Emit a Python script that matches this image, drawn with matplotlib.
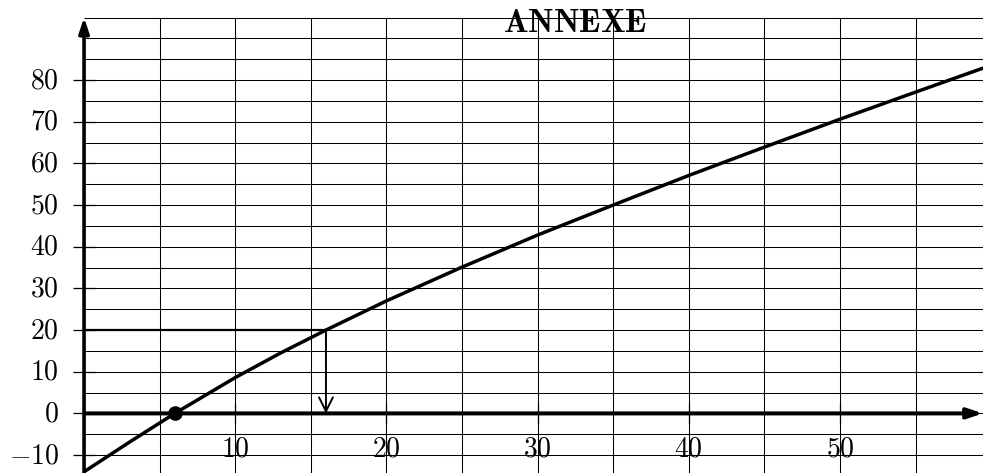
import numpy as np
import matplotlib
matplotlib.use('Agg')
import matplotlib.pyplot as plt

plt.rcParams['mathtext.fontset'] = 'cm'

# curve values
curve_x = [0, 3, 6, 10, 13, 16, 20, 25, 30, 35, 40, 45, 50, 55, 59.5]
curve_y = [-14.0, -6.9, 0, 8.6, 14.5, 20.0, 27.0, 35.1, 42.8, 50.0, 57.1, 63.9, 70.6, 77.1, 82.9]

# marked points
zero_x, zero_y = 6, 0
read_x, read_y = 16, 20

x_labels = [10, 20, 30, 40, 50]
y_labels = [-10, 0, 10, 20, 30, 40, 50, 60, 70, 80]
grid_x = list(range(5, 60, 5))
grid_y = list(range(-10, 100, 5))

x_min, x_max = -5.56, 59.46
y_min, y_max = -14.3, 99.2
grid_top = 95

fig = plt.figure(figsize=(9.83, 4.73), dpi=100)
ax = fig.add_axes([0, 0, 1, 1])
ax.set_xlim(x_min, x_max)
ax.set_ylim(y_min, y_max)
ax.axis('off')

# grid
ax.vlines(grid_x, y_min, grid_top, colors='black', lw=0.75, zorder=1)
ax.hlines(grid_y, 0, x_max, colors='black', lw=0.75, zorder=1)

# tick marks
ax.hlines(y_labels, -0.72, 0.72, colors='black', lw=0.9, zorder=2)
ax.vlines(x_labels, -2.4, 2.4, colors='black', lw=0.9, zorder=2)

# axes with arrows
ax.annotate('', xy=(0, grid_top), xytext=(0, y_min - 1),
            arrowprops=dict(arrowstyle='-|>,head_length=0.9,head_width=0.3',
                            lw=2.6, color='black', shrinkA=0, shrinkB=0), zorder=4)
ax.annotate('', xy=(x_max, 0), xytext=(0, 0),
            arrowprops=dict(arrowstyle='-|>,head_length=0.9,head_width=0.3',
                            lw=2.9, color='black', shrinkA=0, shrinkB=0), zorder=4)

# tick labels
for v in y_labels:
    ax.text(-1.65, v, r'$%d$' % v, ha='right', va='center', fontsize=20)
for v in x_labels:
    ax.text(v, -10.4, r'$%d$' % v, ha='center', va='baseline', fontsize=20)

ax.text(32.5, 91.6, r'$\mathbf{ANNEXE}$', ha='center', va='baseline', fontsize=23.5)

# curve
ax.plot(curve_x, curve_y, color='black', lw=2.5, solid_capstyle='butt',
        solid_joinstyle='round', zorder=5)

# reading construction
ax.plot([0, read_x], [read_y, read_y], color='black', lw=1.6, zorder=3)
ax.annotate('', xy=(read_x, zero_y), xytext=(read_x, read_y),
            arrowprops=dict(arrowstyle='->,head_length=0.5,head_width=0.25',
                            lw=1.4, color='black', shrinkA=0, shrinkB=0,
                            mutation_scale=20), zorder=3)

ax.plot(zero_x, zero_y, 'o', color='black', markersize=9.5, zorder=6)

plt.savefig('out.png', dpi=100)
